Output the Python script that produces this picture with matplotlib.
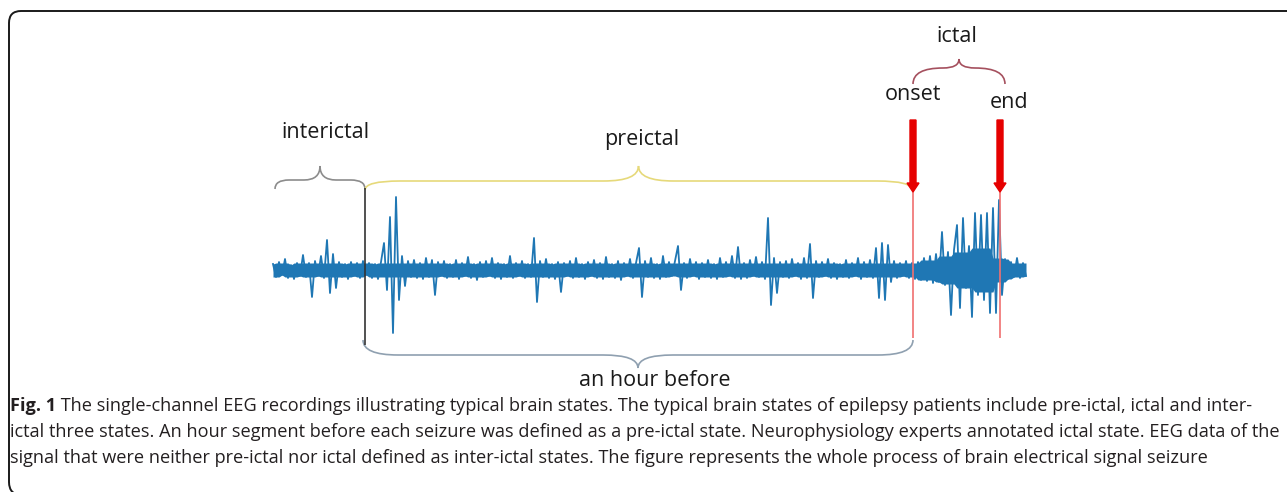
import numpy as np
import matplotlib
matplotlib.use("Agg")
import matplotlib.pyplot as plt
from matplotlib.path import Path
from matplotlib.patches import PathPatch, FancyArrow

# EEG trace, one sample every 3 px, offset from baseline (up = positive)
eeg = [
    6, -7, 8, -5, 11, -8, 5, -9, 7, -6, 15, -7,
    7, -27, 9, -6, 14, -8, 30, -23, 16, -18, 8, -7,
    6, -9, 8, -6, 7, -8, 9, -5, 7, -8, 6, -9,
    8, 27, -20, 53, -63, 73, -30, 14, -16, 9, -7, 10,
    -8, 7, -9, 12, -7, 10, -25, 8, -6, 9, -8, 6,
    -7, 10, -9, 7, -6, 13, -8, 6, -10, 8, -7, 9,
    -6, 12, -8, 7, -9, 6, -7, 14, -8, 7, -6, 9,
    -8, 6, -7, 32, -32, 9, -7, 11, -8, 6, -9, 8,
    -22, 7, -6, 9, -8, 12, -7, 6, -9, 8, -6, 10,
    -8, 7, -9, 13, -7, 6, -8, 9, -10, 7, -6, 11,
    -8, 7, 22, -27, 9, -7, 12, -8, 6, -9, 14, -7,
    8, -6, 9, 24, -20, 7, -8, 11, -6, 8, -9, 7,
    -7, 10, -8, 6, -9, 12, -7, 8, -6, 14, -8, 23,
    -9, 7, -8, 10, -6, 13, -7, 8, -9, 52, -35, 12,
    -23, 8, -7, 9, -8, 11, -6, 7, -9, 12, -8, 26,
    -28, 9, -7, 8, -6, 11, -8, 7, -9, 6, -7, 10,
    -8, 7, -6, 12, -9, 8, -7, 10, -8, 22, -28, 27,
    -30, 25, -12, 9, -8, 7, -6, 9, -8, 7, -9, 8,
    -10, 12, -11, 14, -13, 16, -12, 38, -15, 18, -45, 20,
    45, -38, 52, -18, 24, -47, 57, -25, 55, -30, 57, -43,
    62, -43, 70, -25, 11, -9, 8, -7, 12, -8, 7, -6,
]
# half-width of the dense core of the trace, one value per 6 samples
core = [7] * 36 + [10, 14, 18, 22, 12, 7]
sig_x0 = 273
sig_step = 3
baseline = 270

# state boundaries (px): interictal start, preictal start, onset, end
edges = [275, 365, 913, 1000]

caption = [
    " The single-channel EEG recordings illustrating typical brain states. The typical brain states of epilepsy patients include pre-ictal, ictal and inter-",
    "ictal three states. An hour segment before each seizure was defined as a pre-ictal state. Neurophysiology experts annotated ictal state. EEG data of the",
    "signal that were neither pre-ictal nor ictal defined as inter-ictal states. The figure represents the whole process of brain electrical signal seizure",
]


def brace(ax, x1, x2, y_end, y_flat, y_tip, r_end, r_tip, color, lw=1.2):
    xm = (x1 + x2) / 2
    verts = [(x1, y_end), (x1, y_flat), (x1 + r_end, y_flat),
             (xm - r_tip, y_flat), (xm, y_flat), (xm, y_tip),
             (xm, y_flat), (xm + r_tip, y_flat),
             (x2 - r_end, y_flat), (x2, y_flat), (x2, y_end)]
    codes = [Path.MOVETO, Path.CURVE3, Path.CURVE3,
             Path.LINETO, Path.CURVE3, Path.CURVE3,
             Path.CURVE3, Path.CURVE3,
             Path.LINETO, Path.CURVE3, Path.CURVE3]
    ax.add_patch(PathPatch(Path(verts, codes), fc='none', ec=color, lw=lw))


fig = plt.figure(figsize=(12.87, 4.92), dpi=100)
ax = fig.add_axes([0, 0, 1, 1])
ax.set_xlim(0, 1287)
ax.set_ylim(492, 0)
ax.axis('off')

# frame (open to the right and bottom)
frame = Path([(1300, 11), (21, 11), (9, 11), (9, 23), (9, 482), (9, 495), (22, 495)],
             [Path.MOVETO, Path.LINETO, Path.CURVE3, Path.CURVE3, Path.LINETO,
              Path.CURVE3, Path.CURVE3])
ax.add_patch(PathPatch(frame, fc='none', ec='#1a1a1a', lw=1.4))

# signal
e = np.array(eeg, dtype=float)
x = sig_x0 + sig_step * np.arange(len(e))
lim = np.repeat(core, 6)[:len(e)]
c = np.clip(e, -lim, lim)
nb = np.vstack([c, np.r_[c[0], c[:-1]], np.r_[c[1:], c[-1]]])
hi = np.clip(nb.max(axis=0), 3, None)
lo = np.clip(nb.min(axis=0), None, -3)
ax.fill_between(x, baseline - hi, baseline - lo, color='#1f77b4', lw=0, zorder=2)
ax.plot(x, baseline - e, color='#1f77b4', lw=1.3, zorder=2)

# markers
ax.vlines(edges[1], 188, 345, color='#333333', lw=1.2, zorder=3)
ax.vlines(edges[2], 190, 338, color='#f07070', lw=1.2, zorder=3)
ax.vlines(edges[3], 192, 338, color='#f07070', lw=1.2, zorder=3)
for xa in edges[2:]:
    ax.add_patch(FancyArrow(xa, 120, 0, 72, width=6, head_width=12, head_length=9,
                            length_includes_head=True, color='#e60000', zorder=4))

# braces
brace(ax, edges[0], edges[1], 189, 180, 166, 14, 16, '#8c8c8c')
brace(ax, edges[1], edges[2] - 1, 190, 181, 166, 35, 35, '#e6d97a')
brace(ax, edges[1] - 2, edges[2], 340, 355, 368, 35, 35, '#8fa0b0')
brace(ax, edges[2], edges[3] + 5, 84, 68, 59, 30, 16, '#a5505e')

lab = dict(family='Open Sans', fontsize=15.5, color='#1a1a1a', ha='center', va='center')
ax.text(325, 133, 'interictal', **lab)
ax.text(642, 139, 'preictal', **lab)
ax.text(913, 94, 'onset', **lab)
ax.text(1009, 102, 'end', **lab)
ax.text(957, 36, 'ictal', **lab)
ax.text(655, 380, 'an hour before', **lab)

# caption
cap = dict(family='Open Sans', fontsize=13.1, color='#231f20', va='center')
t = ax.text(10, 406, 'Fig. 1', weight='bold', **cap)
fig.canvas.draw()
bb = t.get_window_extent().transformed(ax.transData.inverted())
ax.text(bb.x1, 406, caption[0], **cap)
ax.text(10, 432, caption[1], **cap)
ax.text(10, 458, caption[2], **cap)

fig.savefig('out.png', dpi=100)
